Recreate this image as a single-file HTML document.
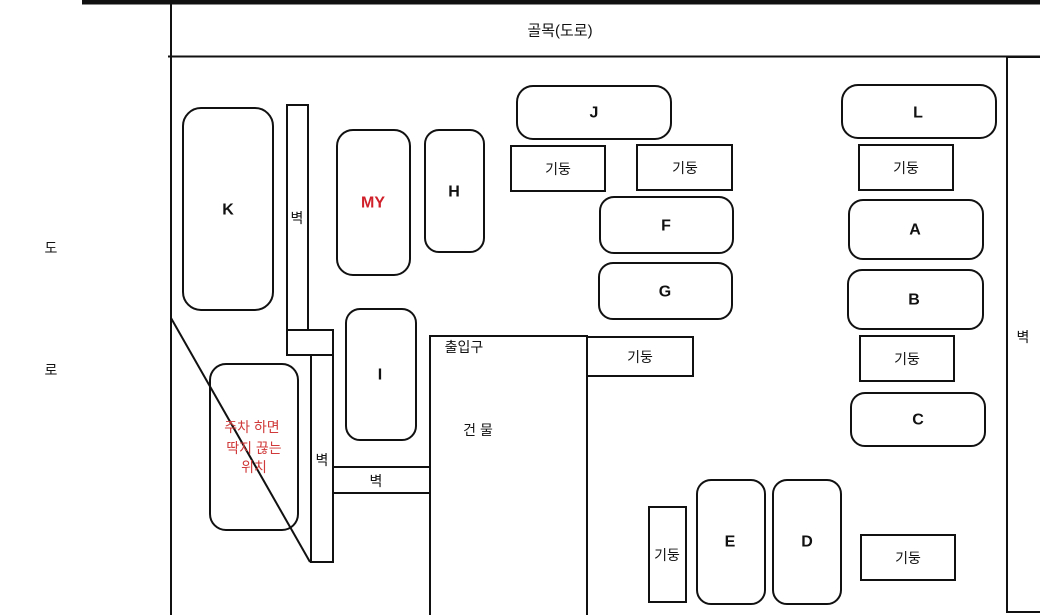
<!DOCTYPE html>
<html><head><meta charset="utf-8"><style>
html,body{margin:0;padding:0;background:#fff;width:1040px;height:615px;overflow:hidden}
svg{display:block}
text{font-family:"Liberation Sans","Noto Sans CJK KR",sans-serif;text-anchor:middle;dominant-baseline:central}
.b{font-weight:bold;font-size:16px}
.k{font-size:14px}
</style></head><body>
<svg width="1040" height="615" viewBox="0 0 1040 615" xmlns="http://www.w3.org/2000/svg">
<g fill="none" stroke="#111" stroke-width="2">
<line x1="82" y1="2" x2="1040" y2="2" stroke-width="5"/>
<line x1="171" y1="4" x2="171" y2="615"/>
<line x1="168" y1="56.5" x2="1040" y2="56.5"/>
<rect x="1007" y="57" width="40" height="555"/>
<rect x="183" y="108" width="90" height="202" rx="18"/>
<rect x="287" y="105" width="21" height="225"/>
<rect x="287" y="330" width="46" height="25"/>
<rect x="311" y="355" width="22" height="207"/>
<rect x="337" y="130" width="73" height="145" rx="16"/>
<rect x="425" y="130" width="59" height="122" rx="14"/>
<rect x="346" y="309" width="70" height="131" rx="14"/>
<rect x="210" y="364" width="88" height="166" rx="16"/>
<line x1="171" y1="318" x2="310" y2="562"/>
<rect x="333" y="467" width="97" height="26"/>
<rect x="430" y="336" width="157" height="285"/>
<rect x="587" y="337" width="106" height="39"/>
<rect x="517" y="86" width="154" height="53" rx="16"/>
<rect x="511" y="146" width="94" height="45"/>
<rect x="637" y="145" width="95" height="45"/>
<rect x="600" y="197" width="133" height="56" rx="14"/>
<rect x="599" y="263" width="133" height="56" rx="14"/>
<rect x="842" y="85" width="154" height="53" rx="16"/>
<rect x="859" y="145" width="94" height="45"/>
<rect x="849" y="200" width="134" height="59" rx="14"/>
<rect x="848" y="270" width="135" height="59" rx="14"/>
<rect x="860" y="336" width="94" height="45"/>
<rect x="851" y="393" width="134" height="53" rx="14"/>
<rect x="649" y="507" width="37" height="95"/>
<rect x="697" y="480" width="68" height="124" rx="14"/>
<rect x="773" y="480" width="68" height="124" rx="14"/>
<rect x="861" y="535" width="94" height="45"/>
</g>
<g fill="#111">
<text x="560" y="31" class="k" style="font-size:15px">골목(도로)</text>
<text x="51" y="248" class="k">도</text>
<text x="51" y="370" class="k">로</text>
<text x="1023" y="337" class="k">벽</text>
<text x="228" y="210" class="b">K</text>
<text x="297" y="218" class="k">벽</text>
<text x="373" y="203" class="b" fill="#d0202a">MY</text>
<text x="454" y="192" class="b">H</text>
<text x="380" y="375" class="b">I</text>
<text x="322" y="460" class="k">벽</text>
<text x="376" y="481" class="k">벽</text>
<text x="464" y="347" class="k">출입구</text>
<text x="478" y="430" class="k">건 물</text>
<text x="640" y="357" class="k">기둥</text>
<text x="594" y="113" class="b">J</text>
<text x="558" y="169" class="k">기둥</text>
<text x="685" y="168" class="k">기둥</text>
<text x="666" y="226" class="b">F</text>
<text x="665" y="292" class="b">G</text>
<text x="918" y="113" class="b">L</text>
<text x="906" y="168" class="k">기둥</text>
<text x="915" y="230" class="b">A</text>
<text x="914" y="300" class="b">B</text>
<text x="907" y="359" class="k">기둥</text>
<text x="918" y="420" class="b">C</text>
<text x="667" y="555" class="k">기둥</text>
<text x="730" y="542" class="b">E</text>
<text x="807" y="542" class="b">D</text>
<text x="908" y="558" class="k">기둥</text>
<g fill="#d03a3a" class="k">
<text x="252" y="427">주차 하면</text>
<text x="254" y="448">딱지 끊는</text>
<text x="254" y="467">위치</text>
</g>
</g>
</svg>
</body></html>
